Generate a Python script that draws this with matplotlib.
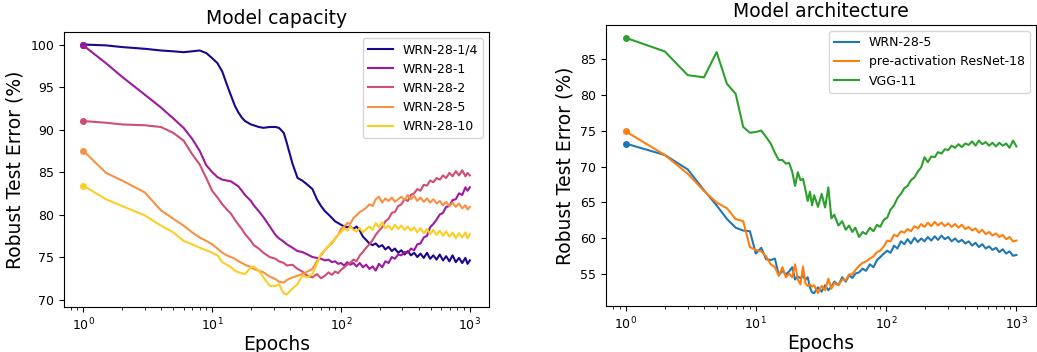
import matplotlib
matplotlib.use("Agg")
import matplotlib.pyplot as plt

# ---- left panel: model capacity ----
epochs_capacity = [
    1, 1.5, 2, 3, 4, 5, 6, 7, 8, 9,
    10, 11, 12, 13, 14, 15, 16, 17, 18, 20,
    21, 23, 25, 28, 31, 33, 36, 38, 42, 46,
    50, 55, 60, 65, 70, 75, 80, 85, 90, 95,
    100, 106, 112, 118, 125, 132, 140, 148, 157, 166,
    176, 186, 197, 209, 221, 234, 248, 262, 278, 294,
    311, 330, 349, 370, 391, 414, 439, 465, 492, 521,
    552, 584, 619, 655, 694, 735, 778, 824, 873, 924,
    960, 1000,
]
capacity_labels = ["WRN-28-1/4", "WRN-28-1", "WRN-28-2", "WRN-28-5", "WRN-28-10"]

wrn_1_4 = [
    100.0, 99.9, 99.7, 99.5, 99.3, 99.2, 99.1, 99.2, 99.3, 99.0,
    98.4, 97.8, 96.8, 95.3, 94.0, 92.8, 92.0, 91.4, 91.0, 90.6,
    90.5, 90.3, 90.2, 90.3, 90.3, 90.2, 89.6, 88.4, 86.0, 84.3,
    84.0, 83.5, 83.0, 81.8, 81.0, 80.4, 80.0, 79.6, 79.2, 79.0,
    78.8, 78.6, 78.5, 78.6, 78.3, 78.6, 78.1, 77.4, 77.0, 76.6,
    76.4, 76.6, 76.2, 76.4, 75.9, 76.2, 75.7, 76.0, 75.5, 75.8,
    75.3, 75.7, 75.2, 75.5, 75.0, 75.4, 74.9, 75.5, 74.8, 75.2,
    74.7, 75.3, 74.6, 75.1, 74.5, 75.2, 74.4, 74.9, 74.3, 74.9,
    74.2, 74.6,
]
wrn_1 = [
    99.9, 97.8, 96.2, 94.1, 92.6, 91.3, 90.2, 88.9, 87.5, 85.8,
    85.0, 84.4, 84.1, 84.0, 83.9, 83.6, 83.3, 82.8, 82.3, 81.6,
    81.1, 80.4, 79.7, 78.6, 77.6, 77.2, 76.8, 76.5, 76.1, 75.7,
    75.6, 75.3, 75.0, 74.9, 74.8, 74.6, 74.7, 74.4, 74.5, 74.2,
    74.3, 74.0, 74.4, 74.1, 74.3, 73.9, 74.3, 73.8, 74.1, 73.6,
    73.9, 73.4, 74.2, 73.8, 74.5, 74.3, 75.0, 74.8, 75.3, 75.2,
    75.6, 75.5, 76.0, 75.8, 76.5, 76.6, 77.3, 77.5, 78.5, 78.9,
    79.4, 80.0, 80.2, 80.9, 81.0, 81.7, 81.8, 82.5, 82.3, 83.2,
    82.8, 83.2,
]
wrn_2 = [
    91.0, 90.8, 90.6, 90.5, 90.3, 89.6, 88.7, 87.1, 85.9, 84.3,
    82.8, 82.0, 81.2, 80.6, 80.1, 79.4, 78.8, 78.3, 77.7, 76.9,
    76.4, 76.0, 75.5, 75.0, 74.8, 74.5, 74.3, 74.0, 74.1, 73.6,
    73.3, 72.8, 72.6, 73.0, 72.5, 72.8, 73.2, 72.9, 73.3, 73.1,
    73.5, 73.8, 74.1, 74.3, 74.7, 74.5, 75.2, 75.6, 76.1, 76.5,
    77.0, 77.6, 78.1, 78.5, 79.2, 79.5, 80.2, 80.3, 81.0, 81.2,
    81.8, 81.6, 82.3, 82.5, 83.0, 82.8, 83.5, 83.4, 84.0, 83.8,
    84.3, 84.1, 84.6, 84.3, 84.9, 84.5, 85.1, 84.6, 85.2, 84.5,
    84.9, 84.6,
]
wrn_5 = [
    87.5, 84.9, 84.0, 82.6, 80.5, 79.5, 78.7, 77.9, 77.3, 76.9,
    76.5, 76.0, 75.5, 75.2, 75.0, 74.8, 74.5, 74.3, 74.1, 73.8,
    73.6, 73.4, 73.2, 72.7, 72.4, 72.1, 72.0, 72.3, 72.6, 72.8,
    73.0, 73.3, 73.6, 74.5, 75.2, 75.8, 76.3, 76.6, 77.2, 77.6,
    78.3, 78.6, 79.0, 78.9, 79.6, 79.9, 80.3, 80.5, 80.8, 81.2,
    81.0, 81.8, 82.1, 81.4, 81.9, 81.6, 82.0, 81.5, 81.8, 82.1,
    81.7, 82.3, 81.8, 82.2, 81.6, 82.0, 81.5, 81.9, 81.4, 81.8,
    81.3, 81.6, 81.1, 81.5, 81.0, 81.4, 80.9, 81.3, 80.7, 81.1,
    80.6, 80.9,
]
wrn_10 = [
    83.4, 81.8, 81.0, 79.9, 78.7, 77.9, 76.9, 76.5, 76.1, 75.8,
    75.5, 75.2, 74.4, 74.1, 73.8, 73.4, 73.2, 73.1, 73.0, 73.8,
    73.9, 73.4, 72.6, 71.6, 71.6, 71.8, 70.7, 70.6, 71.3, 71.8,
    72.8, 72.6, 73.0, 74.2, 75.4, 75.8, 76.3, 76.8, 77.1, 77.6,
    77.9, 78.4, 78.1, 78.6, 78.2, 78.0, 78.4, 77.9, 78.3, 78.6,
    78.2, 79.0, 78.5, 79.1, 78.4, 78.7, 78.2, 78.8, 78.3, 78.7,
    78.2, 78.6, 78.1, 78.5, 77.9, 78.4, 77.8, 78.3, 77.7, 78.2,
    77.6, 78.1, 77.5, 78.0, 77.4, 77.9, 77.2, 77.8, 77.3, 77.9,
    77.2, 77.7,
]

# ---- right panel: model architecture ----
epochs_arch = [
    1, 2, 3, 4, 5, 6, 7, 8, 9, 10,
    11, 12, 13, 14, 15, 16, 17, 18, 19, 20,
    21, 22, 23, 24, 25, 26, 27, 28, 30, 32,
    34, 36, 38, 40, 43, 46, 49, 52, 55, 58,
    62, 66, 70, 75, 80, 85, 90, 96, 102, 108,
    115, 122, 130, 138, 146, 155, 165, 175, 186, 197,
    209, 222, 236, 250, 266, 282, 300, 318, 338, 359,
    381, 405, 430, 457, 485, 515, 547, 581, 617, 655,
    696, 739, 785, 834, 886, 941, 1000,
]
arch_labels = ["WRN-28-5", "pre-activation ResNet-18", "VGG-11"]

arch_wrn = [
    73.2, 71.6, 69.6, 66.7, 64.6, 62.7, 61.5, 61.1, 61.0, 57.9,
    58.7, 57.1, 57.0, 57.2, 54.9, 55.5, 55.0, 55.4, 56.0, 54.3,
    54.7, 54.5, 54.8, 54.3, 54.6, 53.2, 52.5, 52.4, 53.2, 52.6,
    53.5, 52.8, 53.3, 54.0, 53.5, 54.6, 54.0, 54.9, 54.5, 55.1,
    55.3, 55.8, 55.5, 56.4, 56.0, 57.0, 57.4, 57.9, 58.3, 58.0,
    59.0, 58.6, 59.6, 59.2, 59.9, 59.3, 60.1, 59.5, 60.0, 59.6,
    60.2, 59.7, 60.3, 59.8, 60.4, 59.9, 60.2, 59.6, 60.0, 59.5,
    59.8, 59.3, 59.6, 59.0, 59.4, 58.8, 59.2, 58.6, 58.9, 58.4,
    58.7, 58.1, 58.5, 57.9, 58.2, 57.6, 57.7,
]
arch_resnet = [
    74.9, 71.6, 69.0, 66.6, 65.0, 64.2, 62.7, 62.4, 58.8, 58.4,
    58.2, 57.5, 56.4, 56.0, 54.8, 56.0, 54.6, 55.1, 54.6, 56.4,
    54.3, 53.6, 56.1, 53.8, 53.4, 53.6, 53.3, 53.5, 52.4, 53.4,
    52.8, 54.4, 53.0, 53.8, 53.5, 54.3, 54.2, 55.0, 55.0, 55.6,
    56.2, 56.6, 56.8, 57.2, 57.5, 58.1, 58.3, 58.9, 59.7, 59.6,
    60.5, 60.3, 61.0, 60.8, 61.3, 61.0, 61.7, 61.4, 62.0, 61.6,
    62.2, 61.7, 62.3, 61.8, 62.2, 61.7, 62.1, 61.6, 62.0, 61.5,
    61.9, 61.3, 61.6, 61.1, 61.4, 60.8, 61.2, 60.6, 60.9, 60.4,
    60.7, 60.2, 60.5, 59.9, 60.2, 59.6, 59.7,
]
arch_vgg = [
    87.9, 86.0, 82.7, 82.4, 85.9, 81.5, 80.1, 75.5, 74.7, 74.8,
    75.0, 74.1, 73.2, 71.9, 70.9, 70.9, 70.4, 70.5, 69.3, 67.3,
    69.2, 68.1, 68.3, 66.8, 65.2, 66.5, 64.6, 66.0, 64.4, 66.2,
    64.3, 67.1, 62.8, 63.3, 61.8, 62.4, 61.2, 61.8, 60.9, 61.5,
    60.2, 60.9, 60.6, 61.5, 61.0, 61.9, 61.6, 62.6, 62.9, 64.0,
    64.6, 65.6, 66.2, 67.0, 67.3, 68.1, 68.5, 69.3, 69.9, 71.3,
    70.6, 71.4, 71.3, 72.0, 71.8, 72.4, 72.3, 72.9, 72.6, 73.1,
    72.7, 73.2, 73.0, 73.5, 72.9, 73.6, 73.1, 73.4, 72.9, 73.3,
    72.8, 73.3, 72.9, 73.2, 72.6, 73.6, 72.8,
]


def draw_panel(ax, epochs, series, labels, colors, title):
    for vals, lab, col in zip(series, labels, colors):
        ax.plot(epochs, vals, color=col, lw=1.5, label=lab)
        # dot on the first epoch, kept out of the legend
        ax.plot(epochs[0], vals[0], 'o', color=col, ms=4)
    ax.set_xscale('log')
    ax.set_title(title, fontsize=13.5)
    ax.set_xlabel('Epochs', fontsize=13.5, labelpad=1)
    ax.set_ylabel('Robust Test Error (%)', fontsize=13.5)
    ax.tick_params(labelsize=9)
    ax.legend(loc='upper right', fontsize=9)


fig = plt.figure(figsize=(10.37, 3.52), dpi=100)

ax1 = fig.add_axes([0.0617, 0.128, 0.41, 0.781])
cmap = plt.get_cmap('plasma')
cap_colors = [cmap(0.02), cmap(0.34), cmap(0.52), cmap(0.74), cmap(0.9)]
draw_panel(ax1, epochs_capacity, [wrn_1_4, wrn_1, wrn_2, wrn_5, wrn_10],
           capacity_labels, cap_colors, 'Model capacity')

ax2 = fig.add_axes([0.5844, 0.131, 0.4146, 0.798])
draw_panel(ax2, epochs_arch, [arch_wrn, arch_resnet, arch_vgg],
           arch_labels, ['tab:blue', 'tab:orange', 'tab:green'], 'Model architecture')

fig.savefig('out.png', dpi=100)
